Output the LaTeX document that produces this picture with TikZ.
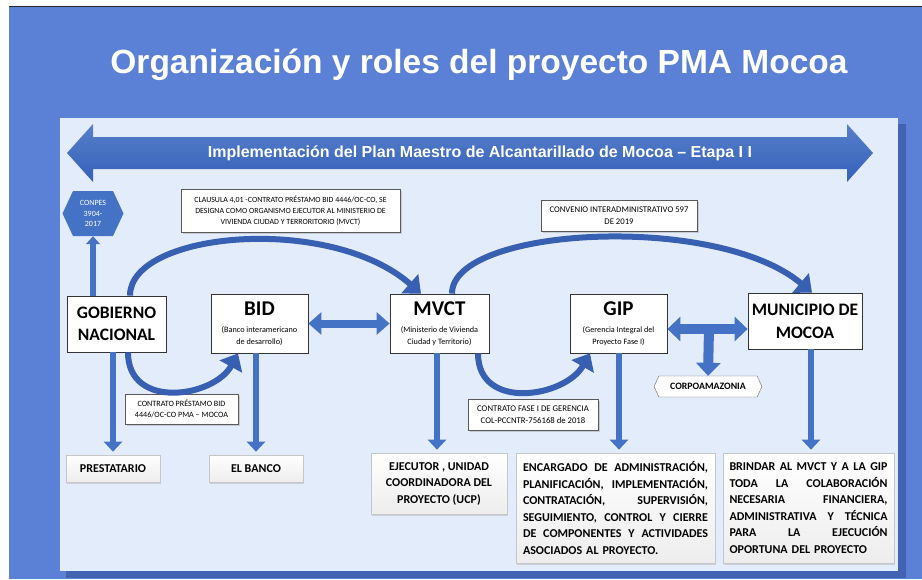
\documentclass[tikz,border=0pt]{standalone}
\usepackage{fontspec}
\setmainfont{Carlito}
\newfontfamily\arialfont{Liberation Sans}
\usepackage{tikz}
\usetikzlibrary{positioning}
\usetikzlibrary{shapes,shadows}
\usetikzlibrary{arrows.meta}
\usetikzlibrary{calc}

\definecolor{fondo}{RGB}{90,129,214}
\definecolor{panel}{RGB}{227,236,250}
\definecolor{sombra}{RGB}{66,98,178}
\definecolor{azul}{RGB}{68,114,196}
\definecolor{azulcurva}{RGB}{56,96,178}
\definecolor{azulbanda}{RGB}{52,96,186}

\newcommand{\linea}[1]{{\spaceskip=0pt\xspaceskip=0pt\makebox[\hsize][s]{#1}}}

\begin{document}
\begin{tikzpicture}[x=1pt, y=-1pt,
  caja/.style={draw=black!80, line width=0.8pt, fill=white, align=center, inner sep=1pt,
    drop shadow={opacity=0.3, shadow xshift=1.2pt, shadow yshift=-1.2pt}},
  rotulo/.style={draw=black!65, line width=1pt, fill=white, align=center, inner sep=1pt,
    drop shadow={opacity=0.3, shadow xshift=1.5pt, shadow yshift=-1.5pt}},
  resultado/.style={draw=black!22, line width=0.6pt, top color=white, bottom color=black!7, inner sep=1pt,
    font=\fontsize{12}{16.5}\selectfont\bfseries,
    drop shadow={opacity=0.25, shadow xshift=1pt, shadow yshift=-1.5pt}},
  hexa/.style={signal, signal to=west and east, signal pointer angle=130, inner sep=0pt},
  bajada/.style={draw=azul, line width=6.5pt, -{Triangle[width=18pt,length=10pt]}},
  curva/.style={draw=azulcurva, line width=6pt, -{Triangle[width=25pt,length=15pt]}},
  doble/.style={draw=azul, {Triangle[width=22pt,length=13pt]}-{Triangle[width=22pt,length=13pt]}},
]
\useasboundingbox (0,0) rectangle (922,579);

% fondo y panel
\fill[white] (0,0) rectangle (922,579);
\fill[fondo] (9,6) rectangle (922,579);
\draw[black!85, line width=1pt] (9,6) -- (922,6);
\fill[sombra] (66,124) rectangle (906,578);
\fill[panel] (60,118) rectangle (898,571);

\node[text=white, font=\arialfont\bfseries\fontsize{33.5}{36}\selectfont] (titulo) at (479,65)
  {Organización y roles del proyecto PMA Mocoa};

% banda superior
\shade[top color=azul!90, bottom color=azulbanda] (67,153) -- (93,124) -- (93,137) -- (847,137)
  -- (847,124) -- (873,153) -- (847,182) -- (847,169) -- (93,169) -- (93,182) -- cycle;
\node[text=white, font=\arialfont\bfseries\fontsize{16}{18}\selectfont] (banda) at (480,153)
  {Implementación del Plan Maestro de Alcantarillado de Mocoa – Etapa I I};

% actores
\node[caja, minimum width=99pt, minimum height=56pt, font=\fontsize{17.5}{22}\selectfont\bfseries]
  (gobierno) at (116.5,324) {GOBIERNO\\NACIONAL};
\node[caja, minimum width=97pt, minimum height=59pt, font=\fontsize{8.2}{12}\selectfont]
  (bid) at ($(gobierno)+(143,-0.5)$) {{\fontsize{21}{21}\selectfont\bfseries BID}\\[5pt](Banco interamericano\\de desarrollo)};
\node[caja, minimum width=99pt, minimum height=59pt, font=\fontsize{8.2}{12}\selectfont]
  (mvct) at ($(bid)+(180,0)$) {{\fontsize{21}{21}\selectfont\bfseries MVCT}\\[5pt](Ministerio de Vivienda\\Ciudad y Territorio)};
\node[caja, minimum width=97pt, minimum height=59pt, font=\fontsize{8.2}{12}\selectfont]
  (gip) at ($(mvct)+(179,0)$) {{\fontsize{21}{21}\selectfont\bfseries GIP}\\[5pt](Gerencia Integral del\\Proyecto Fase I)};
\node[caja, minimum width=114pt, minimum height=56pt, font=\fontsize{17.5}{23}\selectfont\bfseries]
  (municipio) at (805,321) {MUNICIPIO DE\\MOCOA};

\node[hexa, fill=azul, text=white, minimum width=61pt, minimum height=45pt, align=center,
  font=\fontsize{8}{10.5}\selectfont] (conpes) at (93,213.5) {CONPES\\3904-\\2017};
\node[hexa, draw=black!60, fill=white, minimum width=108pt, minimum height=21pt,
  font=\fontsize{9.8}{11}\selectfont\bfseries] (corpo) at (708,386.5) {CORPOAMAZONIA};

% rotulos de los contratos
\node[rotulo, minimum width=219pt, minimum height=43pt, font=\fontsize{7.9}{11}\selectfont] (clausula) at (290.5,210.5)
  {CLAUSULA 4,01 -CONTRATO PRÉSTAMO BID 4446/OC-CO, SE\\DESIGNA COMO ORGANISMO EJECUTOR AL MINISTERIO DE\\VIVIENDA CIUDAD Y TERRORITORIO (MVCT)};
\node[rotulo, minimum width=156pt, minimum height=31pt, font=\fontsize{8.7}{12}\selectfont] (convenio) at (619,215.5)
  {CONVENIO INTERADMINISTRATIVO 597\\DE 2019};
\node[rotulo, minimum width=113pt, minimum height=30pt, font=\fontsize{8.1}{11.5}\selectfont] (prestamo) at (181.5,409)
  {CONTRATO PRÉSTAMO BID\\4446/OC-CO PMA – MOCOA};
\node[rotulo, minimum width=130pt, minimum height=31pt, font=\fontsize{8.7}{12}\selectfont] (fase) at (533,414.5)
  {CONTRATO FASE I DE GERENCIA\\COL-PCCNTR-756168 de 2018};

% roles
\node[resultado, minimum width=94pt, minimum height=27pt] (prestatario) at (113,468.5) {PRESTATARIO};
\node[resultado, minimum width=94pt, minimum height=27pt] (banco) at ($(prestatario)+(143,0)$) {EL BANCO};
\node[resultado, minimum width=136pt, minimum height=61pt, align=center] (ejecutor) at (439,483.5)
  {EJECUTOR , UNIDAD\\COORDINADORA DEL\\PROYECTO (UCP)};
\node[resultado, minimum width=199pt, minimum height=110pt, text width=185pt, align=left] (encargado) at (615.5,508)
  {\linea{ENCARGADO DE ADMINISTRACIÓN,}\\\linea{PLANIFICACIÓN, IMPLEMENTACIÓN,}\\\linea{CONTRATACIÓN, SUPERVISIÓN,}\\
   \linea{SEGUIMIENTO, CONTROL Y CIERRE}\\\linea{DE COMPONENTES Y ACTIVIDADES}\\ASOCIADOS AL PROYECTO.};
\node[resultado, minimum width=171pt, minimum height=110pt, text width=158pt, align=left] (brindar) at (808.5,508)
  {\linea{BRINDAR AL MVCT Y A LA GIP}\\\linea{TODA LA COLABORACIÓN}\\\linea{NECESARIA FINANCIERA,}\\
   \linea{ADMINISTRATIVA Y TÉCNICA}\\\linea{PARA LA EJECUCIÓN}\\OPORTUNA DEL PROYECTO};

% flechas curvas
\draw[curva] ($(gobierno.north)+(13.5,0)$) .. controls +(0,-64) and +(-91,-80) .. ($(mvct.north)+(-18.5,0)$);
\draw[curva] ($(mvct.north)+(12.5,0)$) .. controls +(0,-67) and +(-95,-80) .. ($(municipio.north)+(7,0)$);
\draw[curva] ($(gobierno.south)+(11.5,0)$) .. controls +(0,58) and +(-24,44) .. ($(bid.south)+(-21.5,0)$);
\draw[curva] ($(mvct.south)+(38.5,0)$) .. controls +(0,58) and +(-25,44) .. ($(gip.south)+(-28.5,0)$);

% flechas rectas
\draw[draw=azul, line width=6pt, -{Triangle[width=14pt,length=8pt]}] (conpes.south |- gobierno.north) -- (conpes.south);
\draw[doble, line width=8pt] (bid.east) -- (mvct.west);
\coordinate (cruce) at (709,329);
\draw[doble, line width=10pt, {Triangle[width=24pt,length=13pt]}-{Triangle[width=24pt,length=13pt]}]
  (cruce -| gip.east) -- (cruce -| municipio.west);
\draw[draw=azul, line width=10pt, -{Triangle[width=24pt,length=13pt]}] (cruce) -- (corpo.north);

\draw[bajada, shorten >=3pt] (prestatario.north |- gobierno.south) -- (prestatario.north);
\draw[bajada, shorten >=3pt] (banco.north |- bid.south) -- (banco.north);
\draw[bajada, shorten >=3pt] ($(ejecutor.north |- mvct.south)+(-2,0)$) -- ($(ejecutor.north)+(-2,0)$);
\draw[bajada, shorten >=3pt] ($(encargado.north |- gip.south)+(3.5,0)$) -- ($(encargado.north)+(3.5,0)$);
\draw[bajada, shorten >=3pt] ($(brindar.north |- municipio.south)+(2.5,0)$) -- ($(brindar.north)+(2.5,0)$);
\end{tikzpicture}
\end{document}
